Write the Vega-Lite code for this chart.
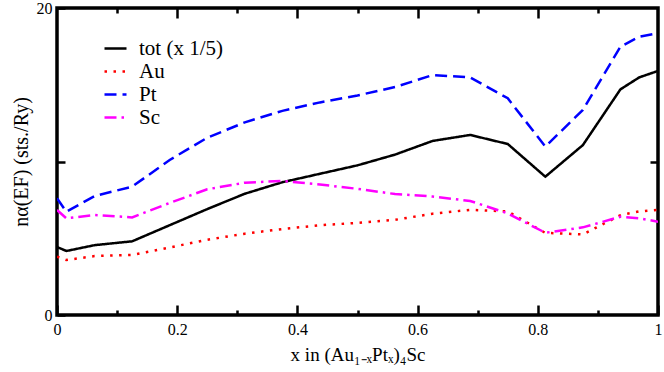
{
  "$schema": "https://vega.github.io/schema/vega-lite/v6.json",
  "width": 601,
  "height": 307,
  "autosize": "none",
  "padding": {"left": 57, "top": 8, "right": 6, "bottom": 57},
  "background": "white",
  "config": {
    "view": {"stroke": "black", "strokeWidth": 3.5},
    "font": "Liberation Serif",
    "axis": {"domain": false, "grid": false, "tickColor": "black", "tickWidth": 2.5, "labelColor": "black", "titleColor": "black", "labelFont": "Liberation Serif", "titleFont": "Liberation Serif", "labelFontSize": 16, "titleFontSize": 18, "titleFontWeight": "normal", "labelOverlap": false, "labelBound": false, "labelFlush": false},
    "legend": {"labelFont": "Liberation Serif", "labelFontSize": 21, "labelColor": "black", "orient": "none", "legendX": 46, "legendY": 28, "symbolType": "stroke", "symbolSize": 484, "symbolStrokeWidth": 2.5, "labelOffset": 11, "rowPadding": -1, "padding": 0, "titleFont": "Liberation Serif"}
  },
  "data": {
    "values": [
      {"x": 0, "series": "tot (x 1/5)", "n": 4.43},
      {"x": 0.015625, "series": "tot (x 1/5)", "n": 4.17},
      {"x": 0.0625, "series": "tot (x 1/5)", "n": 4.55},
      {"x": 0.125, "series": "tot (x 1/5)", "n": 4.8},
      {"x": 0.1875, "series": "tot (x 1/5)", "n": 5.85},
      {"x": 0.25, "series": "tot (x 1/5)", "n": 6.9},
      {"x": 0.3125, "series": "tot (x 1/5)", "n": 7.9},
      {"x": 0.375, "series": "tot (x 1/5)", "n": 8.65},
      {"x": 0.4375, "series": "tot (x 1/5)", "n": 9.2},
      {"x": 0.5, "series": "tot (x 1/5)", "n": 9.75},
      {"x": 0.5625, "series": "tot (x 1/5)", "n": 10.45},
      {"x": 0.625, "series": "tot (x 1/5)", "n": 11.34},
      {"x": 0.6875, "series": "tot (x 1/5)", "n": 11.73},
      {"x": 0.75, "series": "tot (x 1/5)", "n": 11.14},
      {"x": 0.8125, "series": "tot (x 1/5)", "n": 9.01},
      {"x": 0.875, "series": "tot (x 1/5)", "n": 11.07},
      {"x": 0.9375, "series": "tot (x 1/5)", "n": 14.7},
      {"x": 0.96875, "series": "tot (x 1/5)", "n": 15.48},
      {"x": 1, "series": "tot (x 1/5)", "n": 15.9},
      {"x": 0, "series": "Au", "n": 3.8},
      {"x": 0.015625, "series": "Au", "n": 3.58},
      {"x": 0.0625, "series": "Au", "n": 3.84},
      {"x": 0.125, "series": "Au", "n": 3.91},
      {"x": 0.1875, "series": "Au", "n": 4.4},
      {"x": 0.25, "series": "Au", "n": 4.9},
      {"x": 0.3125, "series": "Au", "n": 5.3},
      {"x": 0.375, "series": "Au", "n": 5.6},
      {"x": 0.4375, "series": "Au", "n": 5.85},
      {"x": 0.5, "series": "Au", "n": 6.0},
      {"x": 0.5625, "series": "Au", "n": 6.2},
      {"x": 0.625, "series": "Au", "n": 6.6},
      {"x": 0.6875, "series": "Au", "n": 6.85},
      {"x": 0.75, "series": "Au", "n": 6.75},
      {"x": 0.8125, "series": "Au", "n": 5.35},
      {"x": 0.875, "series": "Au", "n": 5.25},
      {"x": 0.9375, "series": "Au", "n": 6.5},
      {"x": 0.96875, "series": "Au", "n": 6.75},
      {"x": 1, "series": "Au", "n": 6.85},
      {"x": 0, "series": "Pt", "n": 7.6},
      {"x": 0.015625, "series": "Pt", "n": 6.73},
      {"x": 0.0625, "series": "Pt", "n": 7.75},
      {"x": 0.125, "series": "Pt", "n": 8.36},
      {"x": 0.1875, "series": "Pt", "n": 10.1},
      {"x": 0.25, "series": "Pt", "n": 11.55},
      {"x": 0.3125, "series": "Pt", "n": 12.55},
      {"x": 0.375, "series": "Pt", "n": 13.3},
      {"x": 0.4375, "series": "Pt", "n": 13.85},
      {"x": 0.5, "series": "Pt", "n": 14.3},
      {"x": 0.5625, "series": "Pt", "n": 14.85},
      {"x": 0.625, "series": "Pt", "n": 15.63},
      {"x": 0.6875, "series": "Pt", "n": 15.48},
      {"x": 0.75, "series": "Pt", "n": 14.12},
      {"x": 0.8125, "series": "Pt", "n": 10.97},
      {"x": 0.875, "series": "Pt", "n": 13.36},
      {"x": 0.9375, "series": "Pt", "n": 17.48},
      {"x": 0.96875, "series": "Pt", "n": 18.13},
      {"x": 1, "series": "Pt", "n": 18.35},
      {"x": 0, "series": "Sc", "n": 6.84},
      {"x": 0.015625, "series": "Sc", "n": 6.3},
      {"x": 0.0625, "series": "Sc", "n": 6.51},
      {"x": 0.125, "series": "Sc", "n": 6.36},
      {"x": 0.1875, "series": "Sc", "n": 7.3},
      {"x": 0.25, "series": "Sc", "n": 8.19},
      {"x": 0.3125, "series": "Sc", "n": 8.62},
      {"x": 0.375, "series": "Sc", "n": 8.73},
      {"x": 0.4375, "series": "Sc", "n": 8.5},
      {"x": 0.5, "series": "Sc", "n": 8.22},
      {"x": 0.5625, "series": "Sc", "n": 7.88},
      {"x": 0.625, "series": "Sc", "n": 7.72},
      {"x": 0.6875, "series": "Sc", "n": 7.43},
      {"x": 0.75, "series": "Sc", "n": 6.62},
      {"x": 0.8125, "series": "Sc", "n": 5.36},
      {"x": 0.875, "series": "Sc", "n": 5.71},
      {"x": 0.9375, "series": "Sc", "n": 6.4},
      {"x": 0.96875, "series": "Sc", "n": 6.3},
      {"x": 1, "series": "Sc", "n": 6.08}
    ]
  },
  "resolve": {"axis": {"x": "independent", "y": "independent"}},
  "layer": [
    {
      "mark": {"type": "line", "strokeWidth": 2.5, "clip": true},
      "encoding": {
        "x": {"field": "x", "type": "quantitative", "scale": {"domain": [0, 1], "nice": false, "zero": false},
          "axis": {"orient": "bottom", "values": [0, 0.2, 0.4, 0.6, 0.8, 1], "format": "~g", "tickSize": -10, "labelPadding": 16, "title": "x in (Au₁₋ₓPtₓ)₄Sc", "titlePadding": 8, "titleFontSize": 19}},
        "y": {"field": "n", "type": "quantitative", "scale": {"domain": [0, 20], "nice": false, "zero": false},
          "axis": {"orient": "left", "values": [0, 10, 20], "tickSize": -8, "labelPadding": 13, "labelExpr": "datum.value == 10 ? '' : datum.label", "title": "nα(EF)  (sts./Ry)", "titlePadding": 5, "titleFontSize": 20}},
        "color": {"field": "series", "type": "nominal",
          "scale": {"domain": ["tot (x 1/5)", "Au", "Pt", "Sc"], "range": ["black", "#ff0000", "#0000ff", "#ff00ff"]},
          "legend": {"title": null, "labelFont": "Liberation Serif", "labelFontSize": 21}},
        "strokeDash": {"field": "series", "type": "nominal",
          "scale": {"domain": ["tot (x 1/5)", "Au", "Pt", "Sc"], "range": [[1, 0], [2.5, 6.5], [12, 6], [12, 5, 2.5, 5]]},
          "legend": {"title": null, "labelFont": "Liberation Serif", "labelFontSize": 21}},
        "order": {"field": "x", "type": "quantitative"}
      }
    },
    {
      "mark": {"type": "point", "opacity": 0},
      "encoding": {
        "x": {"field": "x", "type": "quantitative", "axis": {"orient": "bottom", "values": [0.1, 0.3, 0.5, 0.7, 0.9], "tickSize": -5, "labels": false, "title": null}},
        "y": {"field": "n", "type": "quantitative", "axis": {"orient": "right", "values": [10], "tickSize": -8, "labels": false, "title": null}}
      }
    },
    {
      "mark": {"type": "point", "opacity": 0},
      "encoding": {
        "x": {"field": "x", "type": "quantitative", "axis": {"orient": "top", "values": [0.2, 0.4, 0.6, 0.8], "tickSize": -10, "labels": false, "title": null}},
        "y": {"field": "n", "type": "quantitative", "axis": null}
      }
    },
    {
      "mark": {"type": "point", "opacity": 0},
      "encoding": {
        "x": {"field": "x", "type": "quantitative", "axis": {"orient": "top", "values": [0.1, 0.3, 0.5, 0.7, 0.9], "tickSize": -5, "labels": false, "title": null}},
        "y": {"field": "n", "type": "quantitative", "axis": null}
      }
    }
  ]
}
